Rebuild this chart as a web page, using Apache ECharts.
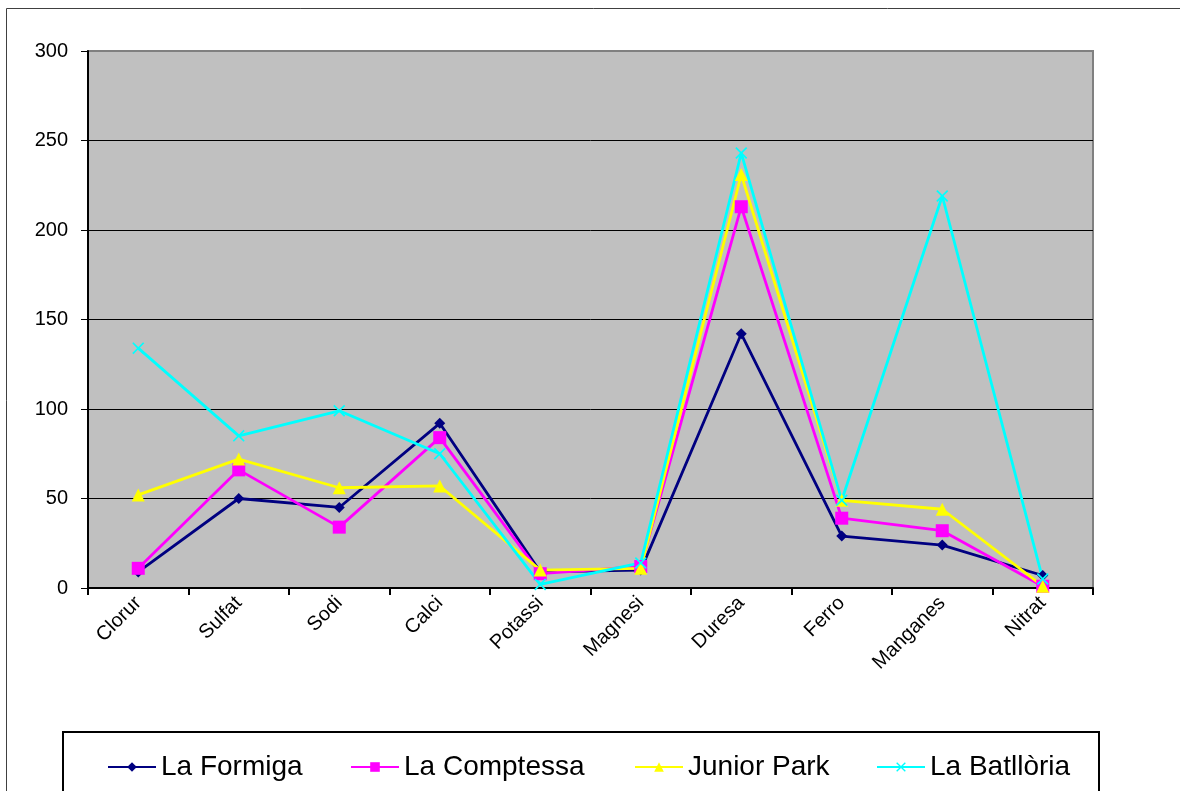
<!DOCTYPE html>
<html>
<head>
<meta charset="utf-8">
<script src="https://cdn.jsdelivr.net/npm/echarts@6/dist/echarts.min.js"></script>
<style>
  html, body { margin: 0; padding: 0; background: #fff; }
  #chart { width: 1180px; height: 791px; }
</style>
</head>
<body>
<div id="chart"></div>
<script>
const categories = ['Clorur', 'Sulfat', 'Sodi', 'Calci', 'Potassi', 'Magnesi', 'Duresa', 'Ferro', 'Manganes', 'Nitrat']
const laFormiga = [9, 50, 45, 92, 9, 10, 142, 29, 24, 7]
const laComptessa = [11, 66, 34, 84, 8, 12, 213, 39, 32, 1]
const juniorPark = [52, 72, 56, 57, 10, 11, 231, 49, 44, 1]
const laBatlloria = [134, 85, 99, 75, 2, 14, 243, 49, 219, 5]
const yTicks = [0, 50, 100, 150, 200, 250, 300]

const font = 'Liberation Sans, Arial, sans-serif'
const xMark = 'path://M0,1L1,0L5,4L9,0L10,1L6,5L10,9L9,10L5,6L1,10L0,9L4,5Z'

function lineSeries (name, data, color, symbol, size) {
  return {
    name,
    type: 'line',
    data,
    symbol,
    symbolSize: size,
    showAllSymbol: true,
    lineStyle: { color, width: 2.8 },
    itemStyle: { color },
    emphasis: { disabled: true },
    animation: false
  }
}

function legendAt (name, left) {
  return {
    data: [name],
    left,
    top: 748,
    itemWidth: 48,
    itemHeight: 12,
    textStyle: { fontSize: 28, color: '#000', fontFamily: font },
    selectedMode: false
  }
}

const chart = echarts.init(document.getElementById('chart'))
chart.setOption({
  backgroundColor: '#fff',
  animation: false,
  graphic: [{
    type: 'rect',
    shape: { x: 6.5, y: 8.5, width: 1200, height: 800 },
    style: { fill: 'none', stroke: '#404040', lineWidth: 1 },
    silent: true
  }, {
    type: 'rect',
    shape: { x: 63, y: 732, width: 1036, height: 80 },
    style: { fill: 'none', stroke: '#000', lineWidth: 2 },
    silent: true
  }],
  legend: [
    legendAt('La Formiga', 102),
    legendAt('La Comptessa', 345),
    legendAt('Junior Park', 629),
    legendAt('La Batllòria', 871)
  ],
  grid: {
    show: true,
    left: 88,
    top: 51,
    right: 87,
    bottom: 203,
    backgroundColor: '#c0c0c0',
    borderColor: '#808080',
    borderWidth: 2
  },
  xAxis: {
    type: 'category',
    data: categories,
    boundaryGap: true,
    axisLine: { lineStyle: { color: '#000', width: 2 } },
    axisTick: { show: true, length: 7, lineStyle: { color: '#000', width: 2 } },
    axisLabel: { rotate: 45, margin: 12, fontSize: 20, color: '#000', fontFamily: font },
    splitLine: { show: false }
  },
  yAxis: {
    type: 'value',
    min: yTicks[0],
    max: yTicks[yTicks.length - 1],
    interval: 50,
    axisLine: { show: true, lineStyle: { color: '#000', width: 2 } },
    axisTick: { show: true, length: 7, lineStyle: { color: '#000', width: 1 } },
    axisLabel: { margin: 20, fontSize: 20, color: '#000', fontFamily: font },
    splitLine: { show: true, showMaxLine: false, showMinLine: false, lineStyle: { color: '#000', width: 1 } }
  },
  series: [
    lineSeries('La Formiga', laFormiga, '#000080', 'diamond', 11),
    lineSeries('La Comptessa', laComptessa, '#ff00ff', 'rect', 13),
    lineSeries('Junior Park', juniorPark, '#ffff00', 'triangle', 13),
    lineSeries('La Batllòria', laBatlloria, '#00ffff', xMark, 12)
  ]
})
</script>
</body>
</html>
